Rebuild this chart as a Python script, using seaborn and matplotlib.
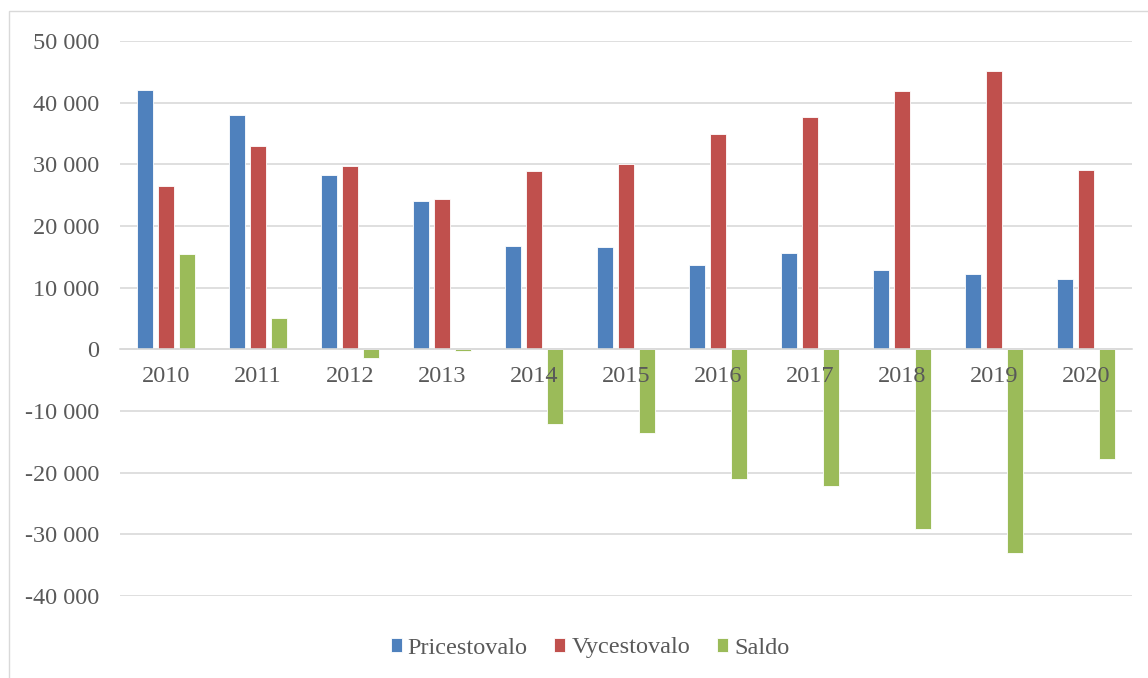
import matplotlib
matplotlib.use('Agg')
import matplotlib.pyplot as plt
import pandas as pd
import seaborn as sns
from matplotlib.patches import Rectangle
from matplotlib.ticker import FuncFormatter

# data
years = ['2010', '2011', '2012', '2013', '2014', '2015', '2016', '2017', '2018', '2019', '2020']
pricestovalo = [42000, 38000, 28300, 24050, 16750, 16550, 13750, 15550, 12800, 12200, 11350]
vycestovalo = [26550, 32900, 29750, 24400, 28950, 30050, 34850, 37750, 41900, 45200, 29100]
saldo = [15500, 5100, -1450, -350, -12150, -13500, -21100, -22150, -29100, -32950, -17750]

series_names = ['Pricestovalo', 'Vycestovalo', 'Saldo']
colors = ['#4F81BD', '#C0504D', '#9BBB59']

df = pd.DataFrame({'year': years * 3,
                   'value': pricestovalo + vycestovalo + saldo,
                   'series': [s for s in series_names for _ in years]})

sns.set_style('white')
plt.rcParams['font.family'] = ['Liberation Serif', 'DejaVu Serif']
text_col = '#595959'
fs = 17.5

fig = plt.figure(figsize=(11.48, 6.78), dpi=100)
ax = fig.add_axes([120 / 1148, 1 - 596 / 678, (1132 - 120) / 1148, (596 - 41) / 678])

sns.barplot(data=df, x='year', y='value', hue='series', order=years,
            hue_order=series_names, palette=colors, width=0.67, gap=0.22,
            edgecolor='white', linewidth=0.6, saturation=1, ax=ax)

ax.set_ylim(-40000, 50000)
ax.set_yticks(range(-40000, 50001, 10000))
ax.yaxis.set_major_formatter(FuncFormatter(lambda v, p: f'{int(v):,}'.replace(',', ' ')))
ax.set_xlim(-0.5, len(years) - 0.5)
ax.grid(axis='y', color='#d9d9d9', linewidth=1.2)
ax.grid(axis='x', visible=False)
ax.set_axisbelow(True)
ax.xaxis.set_zorder(5)

for side in ['top', 'right', 'left']:
    ax.spines[side].set_visible(False)
ax.spines['bottom'].set_position(('data', 0))
ax.spines['bottom'].set_color('#d9d9d9')
ax.spines['bottom'].set_linewidth(1.2)
ax.spines['bottom'].set_zorder(3)

ax.tick_params(axis='both', length=0, labelsize=fs, labelcolor=text_col)
ax.tick_params(axis='x', pad=12)
ax.tick_params(axis='y', pad=15)
ax.set_xlabel('')
ax.set_ylabel('')

handles, labels = ax.get_legend_handles_labels()
ax.legend_.remove()
fig.legend(handles, labels, loc='center', bbox_to_anchor=(590 / 1148, 1 - 648 / 678),
           ncol=3, frameon=False, fontsize=fs, handlelength=0.45, handleheight=0.55,
           handletextpad=0.25, columnspacing=1.1, labelcolor=text_col)

# chart area border
fig.patches.append(Rectangle((9 / 1148, -0.1), 1.2, 1.1 - 11 / 678, transform=fig.transFigure,
                             fill=False, edgecolor='#d9d9d9', linewidth=1.0))

fig.savefig('out.png', dpi=100)
